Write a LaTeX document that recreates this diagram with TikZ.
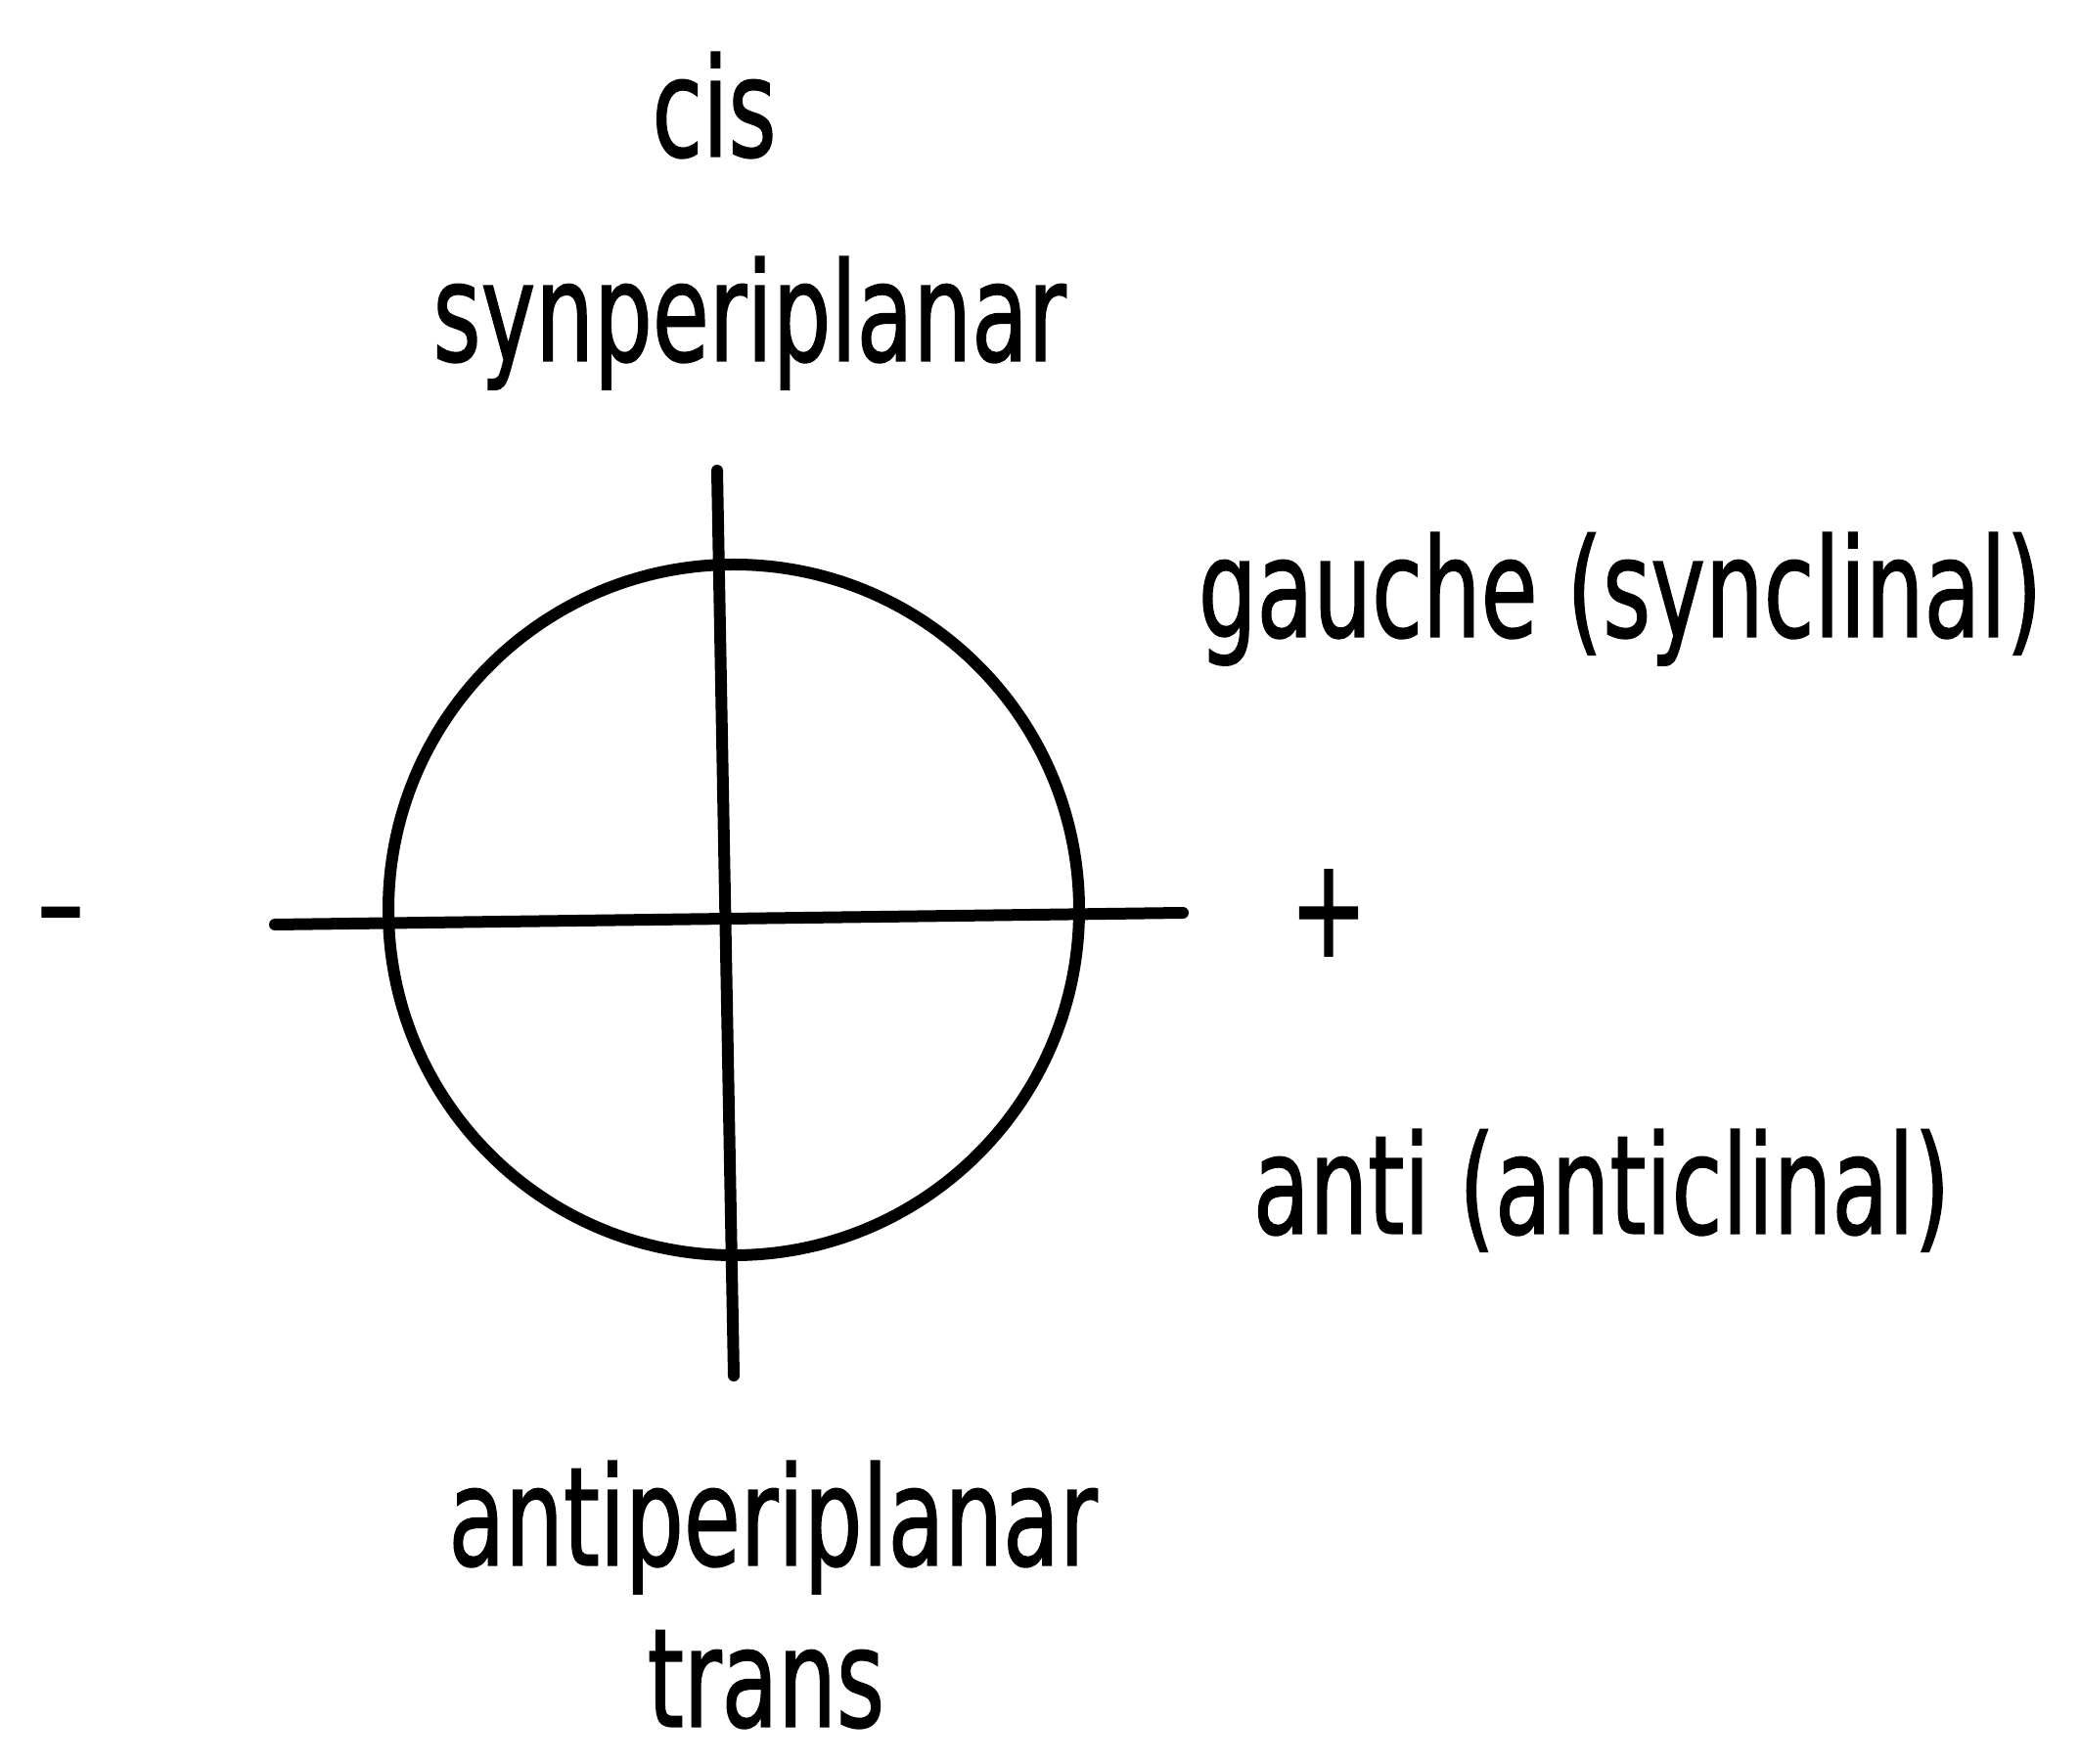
\documentclass[tikz,border=0pt]{standalone}
\usepackage{fontspec}
\setmainfont{DejaVu Sans}[FakeStretch=0.67,FakeBold=1]
\usepackage{tikz}
\usetikzlibrary{positioning,calc}

\begin{document}
\begin{tikzpicture}[
    label/.style={anchor=base, inner sep=0pt, font=\fontsize{40}{48}\selectfont},
    sign/.style={inner sep=0pt, font=\fontsize{40}{48}\selectfont},
    ring/.style={circle, draw, line width=0.12cm, minimum size=7.06cm, inner sep=0pt},
    axis/.style={line width=0.12cm, line cap=round}
]
\useasboundingbox (0,0) rectangle (21.26,18.03);

% Newman circle
\node[ring] (ring) at (7.50,8.73) {};

% Axes
\coordinate (top) at (7.33,13.22);
\coordinate (bottom) at (7.50,3.97);
\coordinate (left) at (2.81,8.58);
\coordinate (right) at (12.09,8.70);
\draw[axis] (top) -- (bottom);
\draw[axis] (left) -- (right);

% Labels
\node[label] (cis) at (7.30,16.43) {cis};
\node[label] (syn) at (7.66,14.34) {synperiplanar};
\node[label] (gauche) at (16.56,11.52) {gauche (synclinal)};
\node[label] (anti) at (16.37,5.42) {anti (anticlinal)};
\node[label] (antip) at (7.90,2.03) {antiperiplanar};
\node[label] (trans) at (7.83,0.38) {trans};

% Signs
\node[sign] (minus) at (0.62,8.54) {–};
\node[sign] (plus) at (13.58,8.70) {+};

\end{tikzpicture}
\end{document}
